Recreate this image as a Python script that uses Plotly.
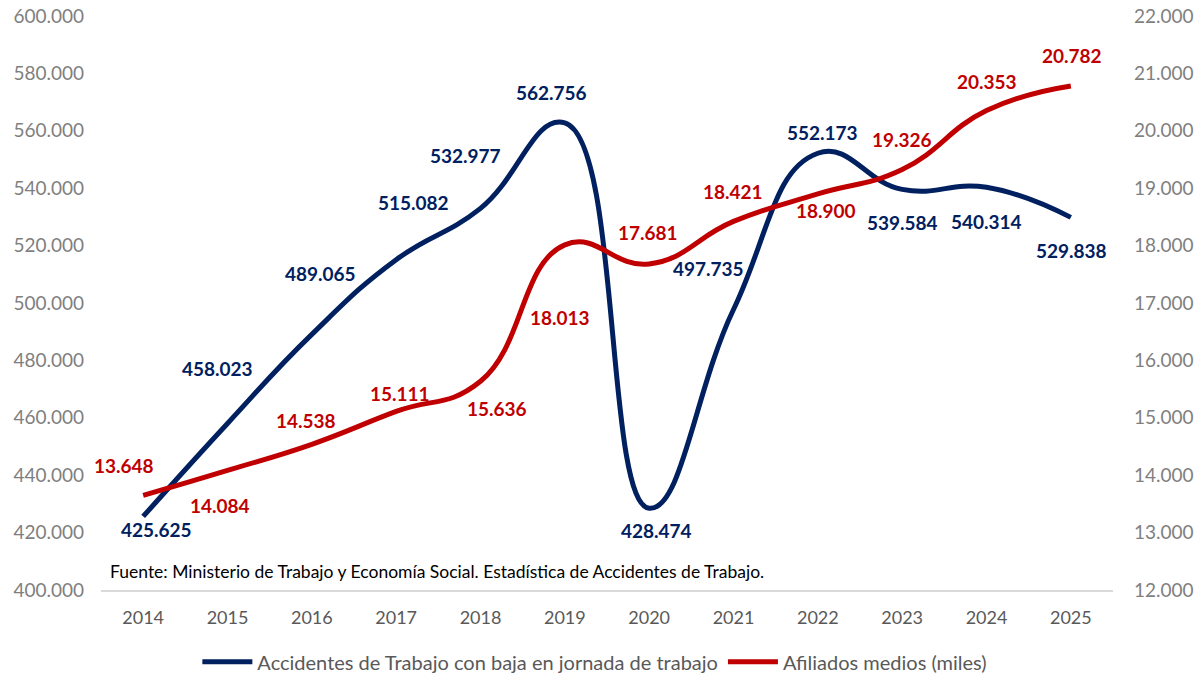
import plotly.graph_objects as go

years = ["2014", "2015", "2016", "2017", "2018", "2019", "2020", "2021", "2022", "2023", "2024", "2025"]
accidentes = [425625, 458023, 489065, 515082, 532977, 562756, 428474, 497735, 552173, 539584, 540314, 529838]
afiliados = [13648, 14084, 14538, 15111, 15636, 18013, 17681, 18421, 18900, 19326, 20353, 20782]
left_ticks = [400000 + 20000 * i for i in range(11)]
right_ticks = [12000 + 1000 * i for i in range(11)]

# label offsets (pixels, y up) for data labels
acc_shift = [(13, -13), (-10, 55), (9, 61), (17, 57), (-15, 53), (-13, 30), (7, -22), (-25, 41), (5, 21), (0, -33), (0, -34), (1, -33)]
afi_shift = [(-19, 30), (-8, -35), (-6, 24), (4, 18), (16, -27), (-5, -73), (-1, 31), (-1, 30), (8, -17), (0, 30), (0, 29), (1, 30)]

BLUE = "#002060"
RED = "#C00000"
FONT = "Lato, Carlito, Calibri, sans-serif"

def fmt(v):
    return f"{v:,}".replace(",", ".")

fig = go.Figure()
fig.add_trace(go.Scatter(x=years, y=accidentes, mode="lines", line=dict(color=BLUE, width=5, shape="spline", smoothing=1.3),
                         name="Accidentes de Trabajo con baja en jornada de trabajo", yaxis="y"))
fig.add_trace(go.Scatter(x=years, y=afiliados, mode="lines", line=dict(color=RED, width=5, shape="spline", smoothing=1.3),
                         name="Afiliados medios (miles)", yaxis="y2"))

for i, (v, (dx, dy)) in enumerate(zip(accidentes, acc_shift)):
    fig.add_annotation(x=i, y=v, xref="x", yref="y", text="<b>" + fmt(v) + "</b>", showarrow=False,
                       xshift=dx, yshift=dy, font=dict(family=FONT, size=19, color=BLUE))
for i, (v, (dx, dy)) in enumerate(zip(afiliados, afi_shift)):
    fig.add_annotation(x=i, y=v, xref="x", yref="y2", text="<b>" + fmt(v) + "</b>", showarrow=False,
                       xshift=dx, yshift=dy, font=dict(family=FONT, size=19, color=RED))
fig.add_annotation(x=0.007, y=0.033, xref="paper", yref="paper", xanchor="left", yanchor="middle", showarrow=False,
                   text="Fuente: Ministerio de Trabajo y Economía Social. Estadística de Accidentes de Trabajo.",
                   font=dict(family=FONT, size=17.5, color="#000000"))

fig.update_layout(
    width=1203, height=679,
    margin=dict(l=101, r=90, t=16, b=89, autoexpand=False),
    paper_bgcolor="white", plot_bgcolor="white",
    separators=",.",
    font=dict(family=FONT, size=18, color="#7f7f7f"),
    showlegend=True,
    legend=dict(orientation="h", x=0.488, xanchor="center", y=-0.125, yanchor="middle",
                font=dict(family=FONT, size=20, color="#595959"), itemwidth=50),
    xaxis=dict(type="category", automargin=False, showgrid=False, showline=True, linecolor="#d9d9d9", linewidth=2,
               ticks="", ticklabelstandoff=10, tickfont=dict(family=FONT, size=18, color="#595959"), range=[-0.5, 11.5]),
    yaxis=dict(range=[400000, 600000], automargin=False, ticklabeloverflow="allow", tickvals=left_ticks,
               tickformat=",.0f", showgrid=False, zeroline=False, showline=False, ticklabelstandoff=16,
               tickfont=dict(family=FONT, size=19, color="#7f7f7f")),
    yaxis2=dict(range=[12000, 22000], automargin=False, ticklabeloverflow="allow", tickvals=right_ticks,
                tickformat=",.0f", overlaying="y", side="right", showgrid=False, zeroline=False, showline=False,
                ticklabelstandoff=20, tickfont=dict(family=FONT, size=19, color="#7f7f7f")),
)

fig.write_html("out.html", config={"displayModeBar": False},
               post_script="document.body.style.margin='0px';")
